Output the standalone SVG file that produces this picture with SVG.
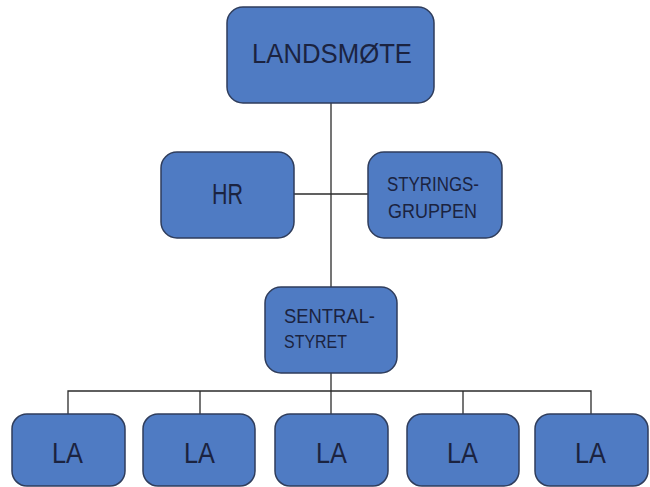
<svg xmlns="http://www.w3.org/2000/svg" width="650" height="487" viewBox="0 0 650 487">
<style>
.box{fill:#4f7bc3;stroke:#2f3d5c;stroke-width:1.5}
.t{font-family:"Liberation Sans",Arial,sans-serif;fill:#1b2340}
.line{stroke:#2b2b2b;stroke-width:1.3;fill:none}
</style>
<rect width="650" height="487" fill="#ffffff"/>
<g id="connectors">
<line class="line" x1="331" y1="103" x2="331" y2="287"/>
<line class="line" x1="294" y1="194" x2="368" y2="194"/>
<line class="line" x1="331" y1="373" x2="331" y2="414"/>
<polyline class="line" points="68,414 68,391 591,391 591,414"/>
<line class="line" x1="200" y1="391" x2="200" y2="414"/>
<line class="line" x1="463" y1="391" x2="463" y2="414"/>
</g>
<g id="landsmote">
<rect class="box" x="227" y="7" width="207" height="96" rx="16"/>
<text class="t" x="252" y="63" font-size="28" textLength="160" lengthAdjust="spacingAndGlyphs">LANDSMØTE</text>
</g>
<g id="hr">
<rect class="box" x="161" y="152" width="133" height="86" rx="16"/>
<text class="t" x="212" y="204" font-size="29" textLength="31" lengthAdjust="spacingAndGlyphs">HR</text>
</g>
<g id="styringsgruppen">
<rect class="box" x="368" y="152" width="134" height="86" rx="16"/>
<text class="t" x="387" y="191" font-size="19.5" textLength="92" lengthAdjust="spacingAndGlyphs">STYRINGS-</text>
<text class="t" x="388" y="218" font-size="20" textLength="89" lengthAdjust="spacingAndGlyphs">GRUPPEN</text>
</g>
<g id="sentralstyret">
<rect class="box" x="265" y="287" width="132" height="86" rx="16"/>
<text class="t" x="284" y="323" font-size="21" textLength="91" lengthAdjust="spacingAndGlyphs">SENTRAL-</text>
<text class="t" x="284" y="348" font-size="19" textLength="63" lengthAdjust="spacingAndGlyphs">STYRET</text>
</g>
<g id="la1">
<rect class="box" x="12" y="414" width="113" height="72" rx="15"/>
<text class="t" x="52" y="463" font-size="29" textLength="31" lengthAdjust="spacingAndGlyphs">LA</text>
</g>
<g id="la2">
<rect class="box" x="143" y="414" width="112" height="72" rx="15"/>
<text class="t" x="184" y="463" font-size="29" textLength="31" lengthAdjust="spacingAndGlyphs">LA</text>
</g>
<g id="la3">
<rect class="box" x="275" y="414" width="113" height="72" rx="15"/>
<text class="t" x="316" y="463" font-size="29" textLength="31" lengthAdjust="spacingAndGlyphs">LA</text>
</g>
<g id="la4">
<rect class="box" x="407" y="414" width="112" height="72" rx="15"/>
<text class="t" x="447" y="463" font-size="29" textLength="31" lengthAdjust="spacingAndGlyphs">LA</text>
</g>
<g id="la5">
<rect class="box" x="535" y="414" width="113" height="72" rx="15"/>
<text class="t" x="575" y="463" font-size="29" textLength="31" lengthAdjust="spacingAndGlyphs">LA</text>
</g>
</svg>
